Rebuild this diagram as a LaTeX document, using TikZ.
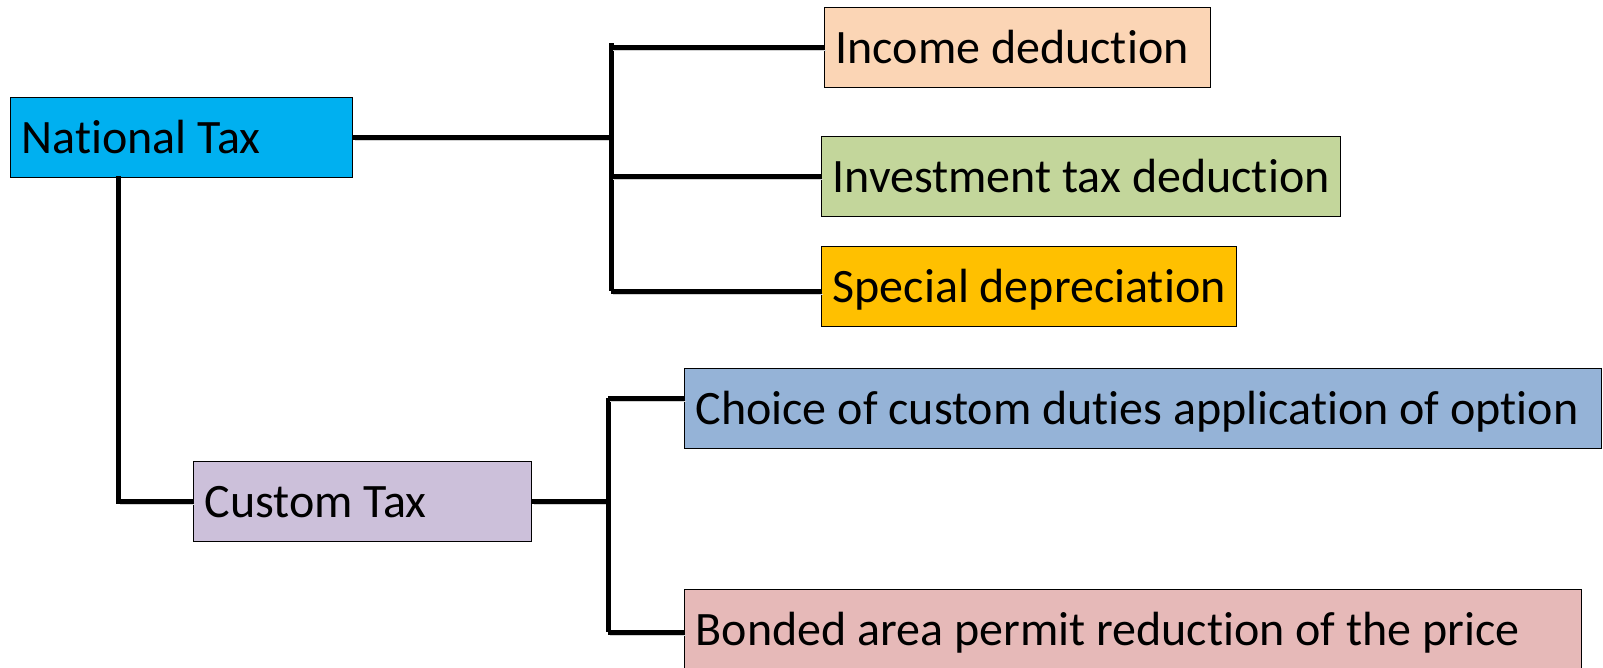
\documentclass[tikz,border=0pt]{standalone}
\usepackage{fontspec}
\setmainfont{Carlito}[Ligatures=NoCommon]
\usepackage{tikz}
\usetikzlibrary{positioning}
\usetikzlibrary{calc}

\definecolor{natcyan}{HTML}{00B0F0}
\definecolor{incpeach}{HTML}{FBD5B5}
\definecolor{invgreen}{HTML}{C3D69B}
\definecolor{spdgold}{HTML}{FFC000}
\definecolor{choblue}{HTML}{95B3D7}
\definecolor{cuslilac}{HTML}{CCC0DA}
\definecolor{bonrose}{HTML}{E6B9B8}

\begin{document}
\begin{tikzpicture}[x=1pt,y=-1pt,
	tax node/.style={draw,line width=1.2pt,anchor=north west,inner xsep=11pt,inner ysep=0pt,
		minimum height=80pt,text height=31pt,text depth=0pt,align=flush left,
		font=\fontsize{48}{52}\selectfont},
	link/.style={line width=5pt,
		preaction={draw=black!18,transform canvas={shift={(2pt,-3pt)}}}}]
	
	\useasboundingbox (0,0) rectangle (1603,667);
	
	\node[tax node,fill=natcyan,text width=320pt] (nat) at (10,97) {National Tax};
	\node[tax node,fill=incpeach,text width=364pt] (inc) at (824,7) {Income deduction};
	\node[tax node,fill=invgreen,text width=497pt] (inv) at (821,136) {Investment tax deduction};
	\node[tax node,fill=spdgold,text width=393pt] (spd) at (821,246) {Special depreciation};
	\node[tax node,fill=cuslilac,text width=316pt] (cus) at (193,461) {Custom Tax};
	\node[tax node,fill=choblue,text width=895pt] (cho) at (684,368) {Choice of custom duties application of option};
	\node[tax node,fill=bonrose,text width=875pt] (bon) at (684,589) {Bonded area permit reduction of the price};
	
	% bars
	\coordinate (taxbar1) at (611,43);
	\coordinate (taxbar2) at (611,291);
	\coordinate (cusbar1) at (608,398);
	\coordinate (cusbar2) at (608,632);
	\coordinate (natdrop) at (118,176);
	
	\draw[link] (nat.east) -- (nat.east -| taxbar1);
	\draw[link] (taxbar1) -- (taxbar2);
	\draw[link] (taxbar1 |- inc.west) -- (inc.west);
	\draw[link] (taxbar1 |- inv.west) -- (inv.west);
	\draw[link] (taxbar2) -- (taxbar2 -| spd.west);
	
	\draw[link] (natdrop) |- (cus.west);
	
	\draw[link] (cus.east) -- (cus.east -| cusbar1);
	\draw[link] (cusbar1) -- (cusbar2);
	\draw[link] (cusbar1) -- (cusbar1 -| cho.west);
	\draw[link] (cusbar2) -- (cusbar2 -| bon.west);
\end{tikzpicture}
\end{document}
